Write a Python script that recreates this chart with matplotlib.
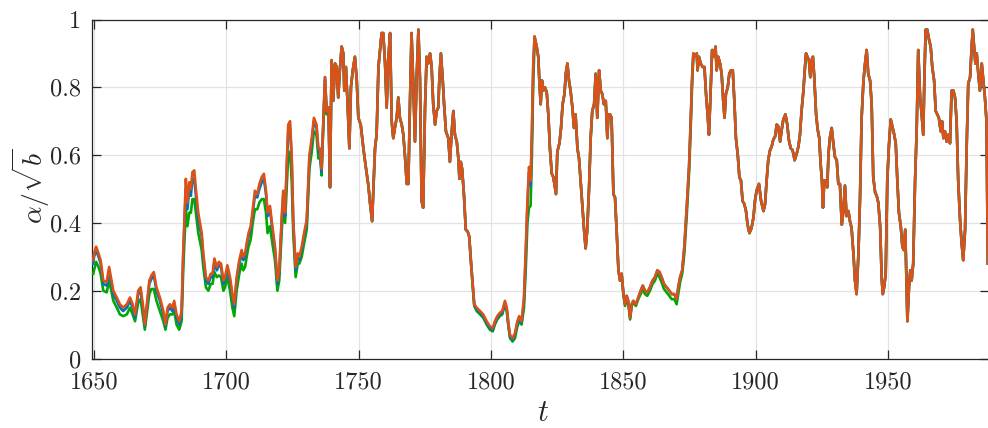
import matplotlib
matplotlib.use("Agg")
import matplotlib.pyplot as plt

plt.rcParams['font.family'] = ['cmr10', 'DejaVu Serif']
plt.rcParams['mathtext.fontset'] = 'cm'
plt.rcParams['axes.formatter.use_mathtext'] = True

# ---------------- data ----------------
t_early = [1649.7, 1650.0, 1650.8, 1651.7, 1652.5, 1653.5, 1654.8, 1655.7, 1656.4, 1657.3,
           1658.6, 1659.8, 1661.0, 1662.4, 1663.6, 1664.6, 1665.5, 1666.7, 1667.6, 1668.6,
           1669.2, 1670.1, 1670.9, 1671.7, 1672.6, 1673.6, 1674.9, 1676.2, 1677.0, 1677.8,
           1678.7, 1679.6, 1680.3, 1681.2, 1682.2, 1683.1, 1683.7, 1684.7, 1685.3, 1686.0,
           1686.6, 1687.2, 1687.9, 1688.5, 1689.4, 1690.7, 1691.3, 1692.3, 1693.2, 1694.1,
           1694.8, 1695.5, 1696.4, 1697.2, 1698.0, 1698.9, 1699.5, 1700.4, 1701.4, 1702.3,
           1703.0, 1703.9, 1704.9, 1705.8, 1706.4, 1707.1, 1707.7, 1708.4, 1709.2, 1710.0,
           1710.8, 1711.7, 1712.5, 1713.4, 1714.2, 1715.0, 1715.6, 1716.5, 1717.4, 1718.4,
           1719.3, 1720.0, 1720.9, 1721.5, 1722.2, 1722.8, 1723.4, 1724.1, 1724.7, 1725.3,
           1726.2, 1727.0, 1727.6, 1728.5, 1729.4, 1730.4, 1731.4, 1732.3, 1733.1, 1734.1,
           1734.8, 1735.4, 1736.0, 1736.7, 1737.3, 1737.9, 1738.6, 1739.2, 1739.8, 1740.4]
orange_early = [.29, .31, .33, .31, .29, .23, .225, .27, .24, .20,
                .18, .16, .15, .16, .18, .16, .13, .20, .21, .15,
                .10, .17, .23, .245, .255, .21, .18, .14, .10, .15,
                .16, .15, .17, .13, .11, .14, .31, .53, .46, .52,
                .50, .55, .555, .50, .43, .37, .31, .24, .23, .25,
                .25, .295, .27, .285, .28, .23, .24, .275, .24, .19,
                .16, .24, .29, .32, .30, .31, .34, .37, .39, .44,
                .495, .485, .515, .535, .545, .495, .43, .45, .39, .33,
                .23, .26, .41, .495, .43, .565, .69, .70, .60, .41,
                .27, .31, .30, .33, .37, .41, .60, .65, .71, .69,
                .62, .62, .56, .71, .83, .73, .74, .505, .88, .76]
blue_early = [.28, .30, .32, .30, .28, .22, .215, .26, .23, .19,
              .17, .15, .14, .15, .17, .15, .12, .19, .20, .14,
              .095, .16, .22, .235, .245, .20, .17, .13, .095, .14,
              .15, .14, .16, .12, .10, .13, .30, .50, .44, .50,
              .48, .53, .53, .48, .41, .36, .30, .23, .22, .24,
              .24, .285, .26, .275, .27, .22, .23, .265, .23, .18,
              .15, .23, .28, .31, .29, .30, .33, .36, .38, .43,
              .48, .475, .50, .52, .53, .485, .42, .44, .38, .32,
              .22, .25, .40, .48, .42, .55, .67, .68, .59, .40,
              .26, .30, .29, .32, .36, .40, .59, .64, .70, .68,
              .61, .61, .55, .705, .83, .73, .74, .505, .88, .76]
green_early = [.25, .26, .285, .27, .25, .20, .195, .23, .205, .17,
               .15, .13, .125, .13, .15, .13, .11, .165, .175, .12,
               .085, .14, .19, .205, .205, .17, .14, .11, .085, .12,
               .13, .13, .14, .10, .085, .11, .26, .44, .39, .43,
               .43, .47, .47, .43, .37, .32, .27, .21, .20, .22,
               .22, .255, .24, .245, .24, .20, .21, .24, .20, .15,
               .125, .20, .25, .28, .26, .27, .30, .33, .35, .40,
               .44, .44, .46, .47, .47, .43, .37, .39, .34, .29,
               .20, .23, .37, .45, .40, .50, .60, .61, .53, .37,
               .24, .28, .28, .30, .34, .38, .56, .61, .67, .66,
               .59, .60, .54, .70, .82, .72, .74, .505, .88, .76]

t_mid1 = [1741.1, 1741.7, 1742.3, 1742.9, 1743.6, 1744.2, 1744.6, 1745.2, 1745.9, 1746.5,
          1747.1, 1747.8, 1748.6, 1749.3, 1749.9, 1750.8, 1751.8, 1752.8, 1753.7, 1754.3,
          1755.1, 1755.6, 1756.2, 1756.8, 1757.5, 1758.1, 1758.7, 1759.3, 1760.0, 1760.6,
          1761.2, 1761.9, 1762.5, 1763.1, 1763.7, 1764.4, 1765.0, 1765.6, 1766.3, 1766.9,
          1767.5, 1768.2, 1768.8, 1769.4, 1770.0, 1770.7, 1771.3, 1771.9, 1772.6, 1773.2,
          1773.8, 1774.4, 1775.1, 1775.7, 1776.3, 1777.0, 1777.6, 1778.2, 1778.9, 1779.5,
          1780.1, 1780.5, 1781.1, 1781.8, 1782.3, 1783.0, 1783.9, 1784.5, 1785.2, 1785.8,
          1786.4, 1787.1, 1787.7, 1788.1, 1788.6, 1789.1, 1789.8]
shared_mid1 = [.87, .86, .77, .85, .92, .90, .79, .86, .74, .62,
               .80, .85, .89, .82, .71, .69, .62, .56, .51, .46,
               .405, .505, .62, .66, .86, .91, .96, .96, .87, .74,
               .88, .96, .70, .65, .68, .71, .77, .71, .69, .66,
               .60, .515, .515, .75, .96, .80, .64, .82, .97, .82,
               .465, .445, .74, .89, .87, .90, .86, .75, .69, .73,
               .74, .82, .90, .82, .75, .67, .65, .58, .67, .73,
               .66, .64, .59, .53, .58, .56, .485]

t_dip = [1790.5, 1791.2, 1791.8, 1792.5, 1793.1, 1793.7, 1794.6, 1795.9, 1797.1, 1798.4,
         1799.6, 1800.7, 1801.5, 1802.4, 1803.4, 1804.3, 1805.3, 1806.0, 1806.6, 1807.2,
         1808.2, 1809.1, 1810.0, 1810.7, 1811.6, 1812.5, 1813.2, 1813.8, 1814.4, 1815.0,
         1815.5, 1816.0, 1816.5]
orange_dip = [.38, .375, .36, .28, .22, .16, .15, .14, .13, .11,
              .095, .09, .11, .125, .135, .14, .17, .15, .105, .07,
              .06, .075, .11, .125, .11, .18, .33, .465, .565, .525,
              .67, .87, .95]
blue_dip = [.38, .375, .36, .28, .22, .16, .145, .135, .125, .105,
            .09, .085, .105, .12, .13, .135, .165, .145, .10, .065,
            .055, .07, .105, .12, .105, .17, .31, .45, .55, .51,
            .66, .86, .95]
green_dip = [.38, .375, .36, .28, .215, .155, .14, .13, .12, .10,
             .085, .08, .10, .115, .125, .13, .16, .14, .095, .06,
             .05, .06, .095, .11, .10, .15, .27, .40, .445, .45,
             .60, .82, .93]

t_mid2 = [1817.3, 1817.9, 1818.3, 1818.8, 1819.3, 1819.8, 1820.4, 1821.1, 1821.7, 1822.3,
          1823.0, 1823.6, 1824.2, 1824.6, 1825.1, 1825.9, 1826.5, 1827.1, 1827.8, 1828.3,
          1828.9, 1829.5, 1830.1, 1830.8, 1831.4, 1832.0, 1832.7, 1833.3, 1833.9, 1834.6,
          1835.2, 1835.8, 1836.4, 1837.1, 1837.7, 1838.3, 1839.0, 1839.6, 1840.2, 1840.9,
          1841.5, 1842.1, 1842.7, 1843.4, 1844.0, 1844.4, 1845.0, 1845.6, 1846.3, 1846.9,
          1847.5, 1848.2, 1848.8, 1849.4]
shared_mid2 = [.92, .89, .82, .75, .82, .79, .80, .785, .72, .62,
               .545, .535, .505, .485, .61, .635, .68, .75, .78, .84,
               .87, .82, .79, .74, .68, .72, .62, .59, .525, .445,
               .38, .325, .38, .505, .65, .73, .75, .84, .71, .85,
               .79, .78, .75, .76, .65, .72, .72, .71, .485, .475,
               .38, .26, .23, .25]

t_low = [1850.1, 1850.7, 1851.3, 1851.9, 1852.6, 1853.2, 1853.8, 1854.8, 1855.7, 1856.6,
         1857.4, 1858.2, 1859.1, 1860.1, 1861.1, 1862.0, 1862.9, 1863.7, 1864.5, 1865.4,
         1866.4, 1867.4, 1868.3, 1869.3, 1870.2, 1870.8, 1871.5, 1872.3, 1873.1, 1874.0,
         1874.9, 1875.5, 1876.0, 1876.5]
orange_low = [.19, .16, .185, .17, .12, .16, .17, .16, .18, .20,
              .215, .20, .195, .21, .23, .24, .26, .255, .24, .22,
              .21, .20, .19, .19, .175, .21, .24, .26, .33, .445,
              .57, .70, .82, .90]
green_low = [.185, .155, .18, .165, .115, .155, .165, .155, .175, .19,
             .205, .19, .185, .20, .22, .23, .25, .24, .225, .205,
             .195, .185, .175, .175, .16, .19, .225, .25, .31, .42,
             .55, .68, .80, .89]

t_late = [1877.1, 1877.8, 1878.1, 1878.6, 1879.3, 1880.0, 1880.7, 1881.3, 1881.9, 1882.4,
          1882.9, 1883.6, 1884.3, 1884.9, 1885.3, 1885.9, 1886.6, 1887.2, 1887.8, 1888.3,
          1888.8, 1889.5, 1890.1, 1890.7, 1891.4, 1892.0, 1892.6, 1893.3, 1893.9, 1894.5,
          1895.1, 1895.8, 1896.4, 1897.0, 1897.7, 1898.5, 1899.2, 1899.8, 1900.4, 1901.3,
          1902.1, 1903.0, 1903.6, 1904.2, 1904.8, 1905.5, 1906.1, 1906.7, 1907.4, 1908.0,
          1908.6, 1909.3, 1909.9, 1910.5, 1911.3, 1912.0, 1912.6, 1913.3, 1914.0, 1914.8,
          1915.6, 1916.2, 1916.8, 1917.4, 1918.1, 1918.7, 1919.1, 1919.6, 1920.2, 1920.7,
          1921.2, 1921.7, 1922.2, 1922.9, 1923.5, 1924.1, 1924.6, 1925.1, 1925.5, 1926.0,
          1926.6, 1927.1, 1927.6, 1928.1, 1928.8, 1929.4, 1930.0, 1930.7, 1931.3, 1931.9,
          1932.6, 1933.2, 1933.8, 1934.4, 1935.1, 1935.7, 1936.3, 1937.0, 1937.6, 1938.2,
          1938.9, 1939.5, 1940.1, 1940.8, 1941.4, 1942.0, 1942.6, 1943.3, 1943.9, 1944.5,
          1945.2, 1945.8, 1946.4, 1947.1, 1947.7, 1948.1, 1948.6, 1949.2, 1949.8, 1950.4,
          1951.1, 1951.7, 1952.3, 1953.0, 1953.6, 1954.2, 1954.9, 1955.5, 1956.0, 1956.6,
          1957.0, 1957.4, 1958.0, 1958.5, 1959.0, 1959.6, 1960.3, 1960.9, 1961.5, 1962.2,
          1962.8, 1963.4, 1963.8, 1964.3, 1964.9, 1965.6, 1966.2, 1966.8, 1967.5, 1968.1,
          1968.7, 1969.3, 1970.0, 1970.5, 1971.0, 1971.6, 1972.2, 1972.9, 1973.5, 1974.1,
          1974.8, 1975.4, 1976.0, 1976.6, 1977.3, 1977.9, 1978.5, 1979.2, 1979.8, 1980.4,
          1981.1, 1981.7, 1982.1, 1982.6, 1983.1, 1983.6, 1984.2, 1984.8, 1985.5, 1986.1,
          1986.7, 1987.3, 1987.8]
shared_late = [.89, .90, .85, .89, .87, .86, .86, .78, .72, .66,
               .76, .91, .89, .92, .85, .89, .87, .84, .76, .71,
               .78, .80, .84, .85, .85, .76, .65, .60, .535, .525,
               .465, .455, .435, .395, .37, .385, .415, .465, .495, .515,
               .465, .435, .455, .525, .585, .615, .625, .645, .655, .69,
               .685, .64, .675, .705, .72, .69, .645, .62, .615, .585,
               .605, .625, .66, .73, .79, .86, .90, .89, .88, .83,
               .88, .89, .83, .72, .675, .65, .575, .525, .445, .525,
               .525, .505, .605, .65, .68, .635, .595, .585, .515, .515,
               .395, .435, .51, .42, .435, .405, .385, .31, .23, .19,
               .31, .475, .71, .82, .87, .91, .84, .82, .75, .535,
               .49, .48, .46, .39, .235, .19, .21, .25, .525, .625,
               .705, .685, .665, .635, .525, .43, .39, .33, .32, .38,
               .25, .11, .21, .26, .23, .28, .525, .67, .91, .77,
               .72, .66, .82, .97, .97, .94, .92, .86, .82, .73,
               .72, .71, .67, .70, .65, .67, .64, .66, .635, .79,
               .79, .77, .70, .525, .41, .34, .29, .38, .625, .81,
               .83, .92, .97, .92, .87, .90, .84, .79, .87, .82,
               .77, .70, .28]

xticks = [1650, 1700, 1750, 1800, 1850, 1900, 1950]
yticks = [0, 0.2, 0.4, 0.6, 0.8, 1]
ytick_labels = ['0', '0.2', '0.4', '0.6', '0.8', '1']

# ---------------- assemble series ----------------
t = t_early + t_mid1 + t_dip + t_mid2 + t_low + t_late
orange = orange_early + shared_mid1 + orange_dip + shared_mid2 + orange_low + shared_late
blue = blue_early + shared_mid1 + blue_dip + shared_mid2 + orange_low + shared_late
green = green_early + shared_mid1 + green_dip + shared_mid2 + green_low + shared_late

# ---------------- figure ----------------
W, H = 988, 428
fig = plt.figure(figsize=(W / 100, H / 100), dpi=100)
ax_l, ax_r, ax_t, ax_b = 92, 989, 19.5, 358.5
ax = fig.add_axes([ax_l / W, (H - ax_b) / H, (ax_r - ax_l) / W, (ax_b - ax_t) / H])

ax.plot(t, green, color='#00a800', lw=1.9, solid_joinstyle='round', zorder=3)
ax.plot(t, blue, color='#0072BD', lw=1.9, solid_joinstyle='round', zorder=4)
ax.plot(t, orange, color='#D95319', lw=1.9, solid_joinstyle='round', zorder=5)

ax.set_xlim(1649.24, 1649.24 + (ax_r - ax_l) / 2.646)
ax.set_ylim(0, 1)
ax.set_xticks(xticks)
ax.set_xticklabels([str(v) for v in xticks])
ax.set_yticks(yticks)
ax.set_yticklabels(ytick_labels)

ax.grid(True, color='#e3e3e3', lw=0.9, zorder=0)
ax.set_axisbelow(True)
for s in ax.spines.values():
    s.set_color('#262626')
    s.set_linewidth(0.9)
ax.tick_params(direction='in', length=6.5, width=0.9, color='#262626',
               top=True, right=True, labelsize=17.5, labelcolor='#262626')
ax.tick_params(axis='x', pad=9)
ax.tick_params(axis='y', pad=8)

ax.set_xlabel(r'$t$', fontsize=22, color='#262626')
ax.set_ylabel(r'$\alpha/\sqrt{b}$', fontsize=20, color='#262626')
ax.xaxis.set_label_coords((543 - ax_l) / (ax_r - ax_l), -(413 - ax_b) / (ax_b - ax_t))
ax.yaxis.set_label_coords(-(ax_l - 31) / (ax_r - ax_l), 0.51)
ax.xaxis.label.set_va('center')
ax.yaxis.label.set_va('center')

fig.savefig('out.png', dpi=100)
